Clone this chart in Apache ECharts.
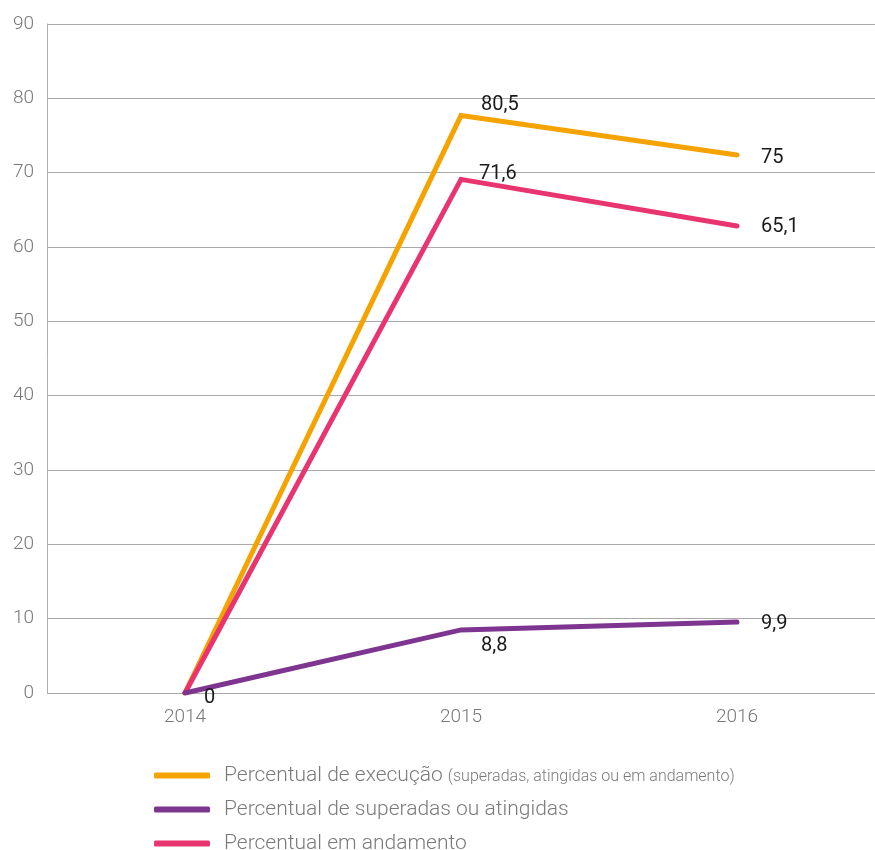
<!DOCTYPE html>
<html>
<head>
<meta charset="utf-8">
<script src="https://cdn.jsdelivr.net/npm/echarts@6/dist/echarts.min.js"></script>
<style>
  html, body { margin: 0; padding: 0; background: #fff; }
  #chart { width: 875px; height: 850px; }
</style>
</head>
<body>
<div id="chart"></div>
<script>
// Years on the category axis
const years = ['2014', '2015', '2016'];

// Percent values per year
const execucao = [0, 80.5, 75];        // superadas, atingidas ou em andamento
const superadas = [0, 8.8, 9.9];       // superadas ou atingidas
const andamento = [0, 71.6, 65.1];     // em andamento

// Tick axis range
const yTicksMin = 0;
const yTicksMax = 90;
const yTicksStep = 10;

const seriesNames = [
  'Percentual de execução',
  'Percentual de superadas ou atingidas',
  'Percentual em andamento'
];

const colors = ['#F5A300', '#7E3590', '#E8346F'];
const font = 'Roboto, "DejaVu Sans", sans-serif';

// The lines sit on their own scale: 90 on the tick axis is 96.5% of it
const lineScaleMax = yTicksMax / 0.965;

function labelAt(i, cfg) {
  return cfg[i] ? Object.assign({
    show: true,
    position: 'right',
    color: '#1a1a1a',
    fontFamily: font,
    fontSize: 20,
    formatter: p => String(p.value).replace('.', ',')
  }, cfg[i]) : { show: false };
}

function buildData(values, cfg) {
  return values.map((v, i) => ({ value: v, label: labelAt(i, cfg) }));
}

const chart = echarts.init(document.getElementById('chart'), null, { renderer: 'canvas' });

chart.setOption({
  animation: false,
  color: colors,
  grid: { left: 47, top: 24, width: 833, bottom: 157 },
  xAxis: {
    type: 'category',
    data: years,
    boundaryGap: true,
    axisLine: { show: false },
    axisTick: { show: false },
    axisLabel: { color: '#777', fontFamily: font, fontWeight: 300, fontSize: 19, margin: 15 }
  },
  yAxis: [
    {
      type: 'value',
      min: yTicksMin,
      max: yTicksMax,
      interval: yTicksStep,
      axisLine: { show: true, lineStyle: { color: '#b0b0b0', width: 1 } },
      axisTick: { show: false },
      splitLine: { lineStyle: { color: '#a8a8a8', width: 1 } },
      axisLabel: { color: '#777', fontFamily: font, fontWeight: 300, fontSize: 19, margin: 13 }
    },
    {
      type: 'value',
      min: 0,
      max: lineScaleMax,
      show: false,
      splitLine: { show: false }
    }
  ],
  legend: {
    orient: 'vertical',
    left: 154,
    top: 765,
    height: 140,
    padding: 0,
    itemWidth: 56,
    itemHeight: 6,
    itemGap: 13,
    icon: 'roundRect',
    data: seriesNames,
    textStyle: {
      color: '#7a7a7a',
      fontFamily: font,
      fontWeight: 300,
      fontSize: 21,
      padding: [0, 0, 0, 9],
      rich: {
        s: { color: '#7a7a7a', fontFamily: font, fontWeight: 300, fontSize: 16, padding: [3, 0, 0, 0] }
      }
    },
    formatter: name => name === seriesNames[0]
      ? name + ' {s|(superadas, atingidas ou em andamento)}'
      : name
  },
  series: [
    {
      name: seriesNames[0],
      type: 'line',
      yAxisIndex: 1,
      z: 2,
      symbol: 'circle',
      symbolSize: 0.1,
      lineStyle: { width: 5, color: colors[0], cap: 'round', join: 'miter' },
      itemStyle: { color: colors[0] },
      data: buildData(execucao, {
        1: { offset: [4, -11], distance: 16 },
        2: { distance: 24, offset: [0, 3] }
      })
    },
    {
      name: seriesNames[1],
      type: 'line',
      yAxisIndex: 1,
      z: 4,
      symbol: 'circle',
      symbolSize: 0.1,
      lineStyle: { width: 5, color: colors[1], cap: 'round', join: 'miter' },
      itemStyle: { color: colors[1] },
      data: buildData(superadas, {
        0: { distance: 19, offset: [0, 5] },
        1: { distance: 20, offset: [0, 16] },
        2: { distance: 24, offset: [0, 2] }
      })
    },
    {
      name: seriesNames[2],
      type: 'line',
      yAxisIndex: 1,
      z: 3,
      symbol: 'circle',
      symbolSize: 0.1,
      lineStyle: { width: 5, color: colors[2], cap: 'round', join: 'miter' },
      itemStyle: { color: colors[2] },
      data: buildData(andamento, {
        1: { offset: [2, -5], distance: 16 },
        2: { distance: 24, offset: [0, 1] }
      })
    }
  ]
});
</script>
</body>
</html>
